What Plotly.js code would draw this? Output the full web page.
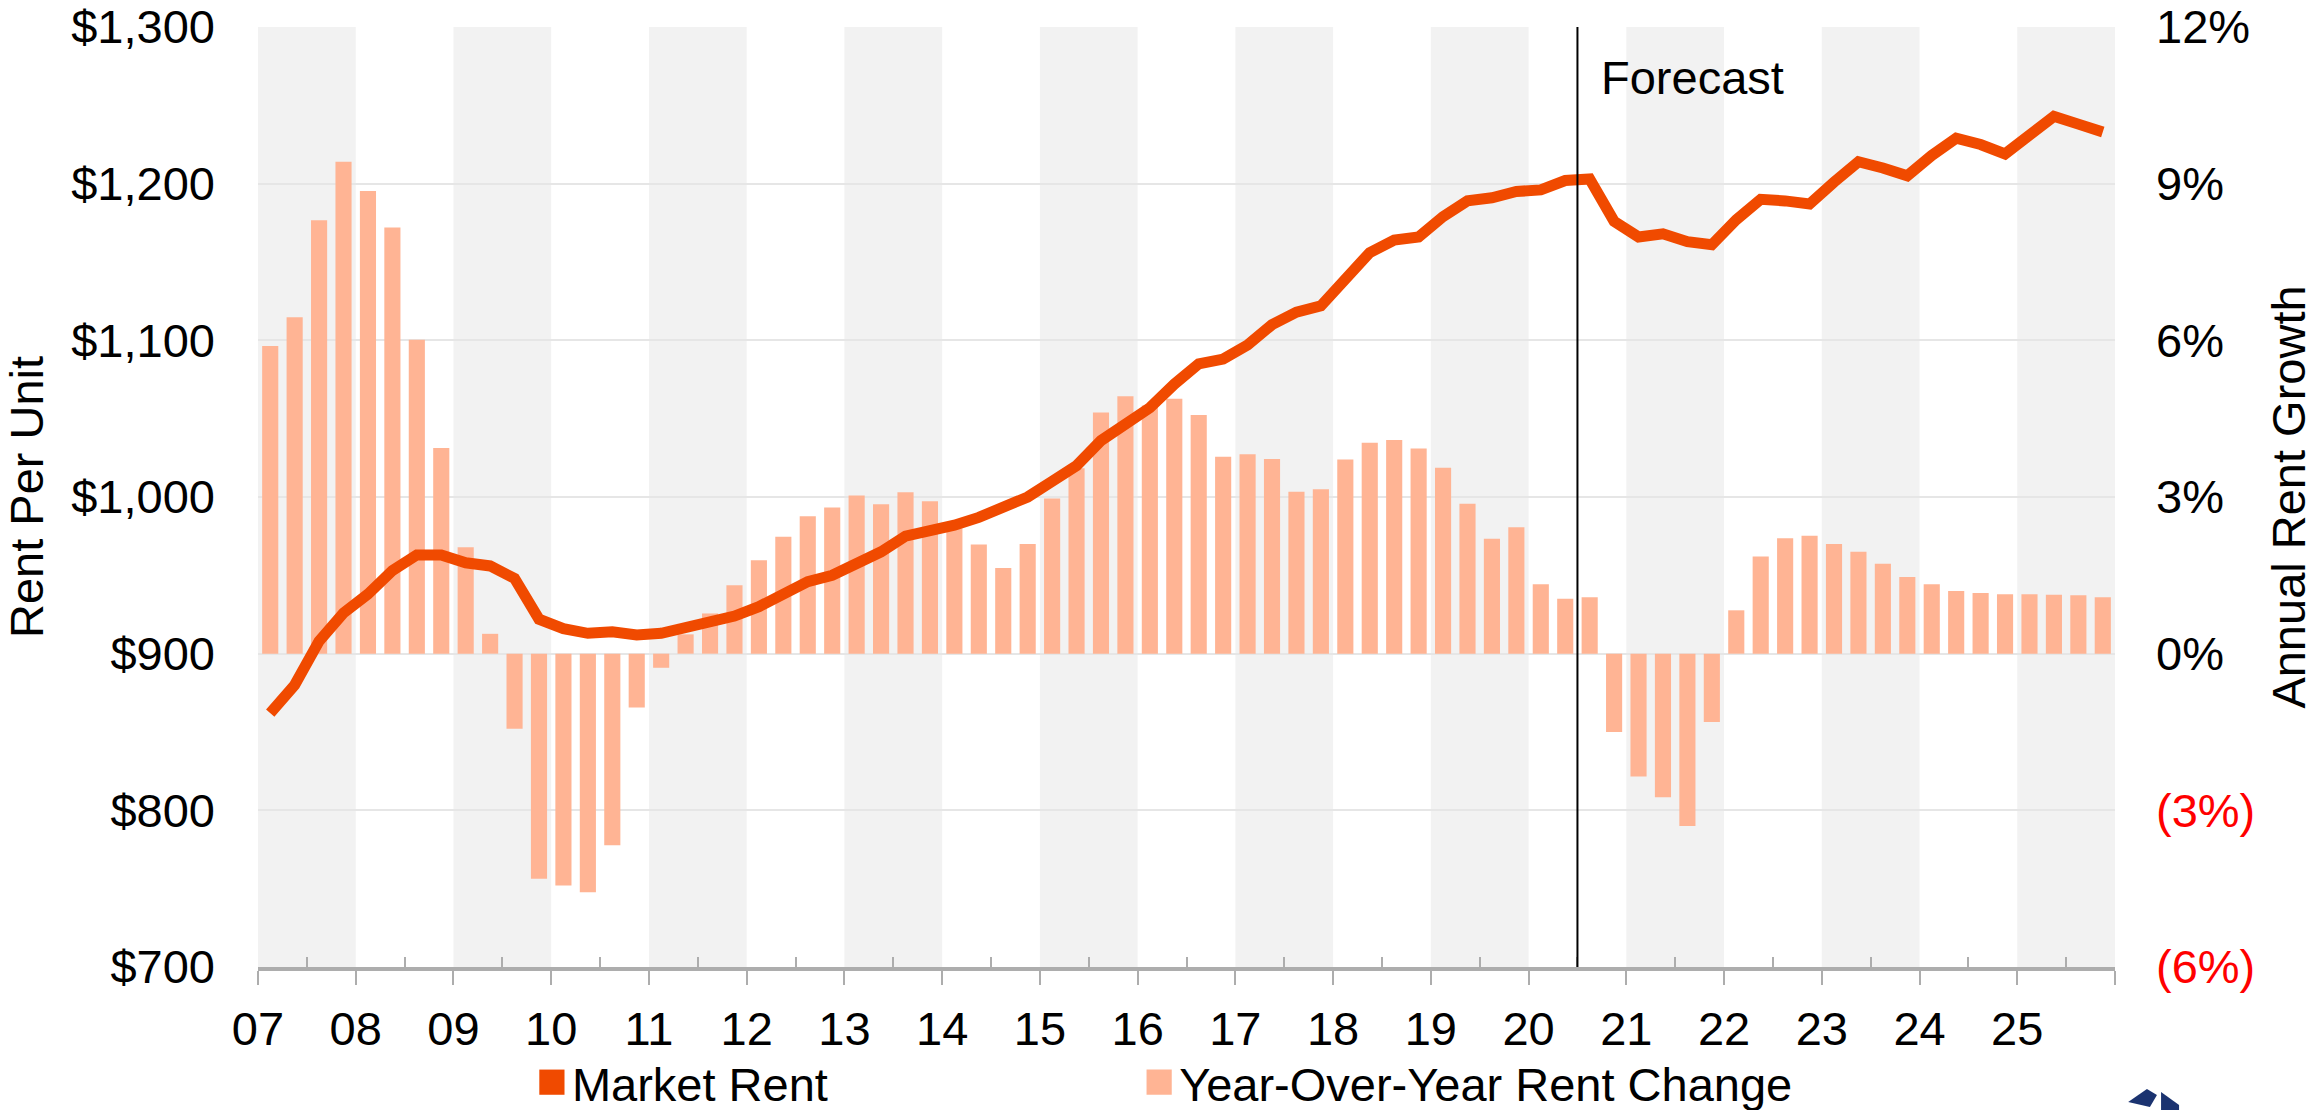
<!DOCTYPE html>
<html>
<head>
<meta charset="utf-8">
<script src="https://cdn.plot.ly/plotly-3.0.1.min.js"></script>
<style>
  html, body { margin: 0; padding: 0; background: #ffffff; }
  #chart { width: 2315px; height: 1110px; }
</style>
</head>
<body>
<div id="chart"></div>
<script>
// ---- Data (quarterly, 2007 Q1 – 2025 Q4) ----
const years = [2007,2008,2009,2010,2011,2012,2013,2014,2015,2016,2017,2018,2019,2020,2021,2022,2023,2024,2025];
const quarterNames = ['Q1','Q2','Q3','Q4'];

// Market rent per unit ($), left axis
const marketRent = [
  862, 880, 908, 926,   938, 953, 963, 963,   958, 956, 948, 922,   916, 913, 914, 912,
  913, 917, 921, 924,   930, 938, 946, 950,   958, 965, 975, 978,   982, 987, 993, 1000,
  1010, 1020, 1036, 1047,   1057, 1072, 1085, 1088,   1097, 1110, 1118, 1122,   1139, 1156, 1164, 1166,
  1179, 1189, 1191, 1195,   1196, 1202, 1203, 1176,   1166, 1168, 1163, 1161,   1177, 1190, 1189, 1187,
  1201, 1214, 1210, 1205,   1218, 1229, 1225, 1219,   1231, 1243, 1238, 1233
];

// Year-over-year rent change (%), right axis
const yoyChange = [
  5.89, 6.44, 8.30, 9.42,   8.86, 8.16, 6.01, 3.94,   2.04, 0.38, -1.44, -4.31,   -4.44, -4.57, -3.67, -1.03,
  -0.27, 0.37, 0.77, 1.31,   1.79, 2.24, 2.63, 2.80,   3.03, 2.86, 3.09, 2.92,   2.40, 2.09, 1.64, 2.10,
  2.97, 3.55, 4.62, 4.93,   4.75, 4.88, 4.57, 3.77,   3.82, 3.73, 3.10, 3.15,   3.72, 4.04, 4.09, 3.93,
  3.56, 2.87, 2.20, 2.42,   1.33, 1.05, 1.08, -1.50,   -2.35, -2.75, -3.30, -1.31,   0.83, 1.86, 2.21, 2.26,
  2.10, 1.95, 1.72, 1.47,   1.33, 1.20, 1.16, 1.14,   1.14, 1.13, 1.12, 1.08
];

const forecastStart = 2020.5;   // forecast begins mid-2020
const xTickLabels = ['07','08','09','10','11','12','13','14','15','16','17','18','19','20','21','22','23','24','25',''];
const rentRange = [700, 1300];
const rentStep = 100;
const growthTicks = [-6, -3, 0, 3, 6, 9, 12];
const growthTickText = ['<span style="color:#ff0000">(6%)</span>', '<span style="color:#ff0000">(3%)</span>', '0%', '3%', '6%', '9%', '12%'];

// ---- Derived x positions (quarter centres on a continuous year axis) ----
const quarterLabels = [];
const xPos = [];
years.forEach(function (yr) {
  quarterNames.forEach(function (q, qi) {
    quarterLabels.push(String(yr).slice(2) + ' ' + q);
    xPos.push(yr + (qi + 0.5) / 4);
  });
});
const tickYears = years.concat([years[years.length - 1] + 1]);

// ---- Styling ----
const FONT = 'Liberation Sans, Arial, Helvetica, sans-serif';
const FS = 47;
const lineColor = '#F04A00';
const barColor = '#FFB494';
const axisGray = '#ADADAD';
const logoNavy = '#1B3370';

const traces = [
  {
    type: 'bar', x: [xPos[0]], y: [null], yaxis: 'y2', legend: 'legend',
    name: 'Market Rent', marker: { color: lineColor }, hoverinfo: 'skip'
  },
  {
    type: 'bar', x: xPos, y: yoyChange, yaxis: 'y', customdata: quarterLabels, legend: 'legend2',
    name: 'Year-Over-Year Rent Change', marker: { color: barColor },
    textposition: 'none',
    hovertemplate: '%{customdata}: %{y:.2f}%<extra></extra>'
  },
  {
    type: 'scatter', mode: 'lines', x: xPos, y: marketRent, yaxis: 'y2', customdata: quarterLabels,
    name: 'Market Rent', showlegend: false,
    line: { color: lineColor, width: 11 },
    hovertemplate: '%{customdata}: $%{y:,.0f}<extra></extra>'
  }
];

// Alternating shaded year bands
const shapes = [];
years.forEach(function (yr, i) {
  if (i % 2 === 0) {
    shapes.push({
      type: 'rect', xref: 'x', yref: 'paper', x0: yr, x1: yr + 1, y0: 0, y1: 1,
      fillcolor: '#F2F2F2', line: { width: 0 }, layer: 'below'
    });
  }
});
shapes.push({
  type: 'line', xref: 'x', yref: 'paper', x0: forecastStart, x1: forecastStart, y0: 0, y1: 1,
  line: { color: '#000000', width: 2 }, layer: 'above'
});
// partially visible publisher logo mark in the bottom-right corner (cut off by the image edge)
shapes.push({
  type: 'path', xref: 'paper', yref: 'paper', layer: 'above',
  path: 'M 1.0071 -0.1436 L 1.0172 -0.1298 L 1.0226 -0.1362 L 1.0188 -0.1489 Z',
  fillcolor: logoNavy, line: { width: 0 }
});
shapes.push({
  type: 'path', xref: 'paper', yref: 'paper', layer: 'above',
  path: 'M 1.0248 -0.1330 L 1.0345 -0.1468 L 1.0345 -0.1550 L 1.0248 -0.1550 Z',
  fillcolor: logoNavy, line: { width: 0 }
});

const legendBase = {
  orientation: 'h', xanchor: 'left', y: -0.123, yanchor: 'middle',
  font: { family: FONT, size: FS, color: '#000000' },
  bgcolor: 'rgba(0,0,0,0)', borderwidth: 0
};

const layout = {
  width: 2315, height: 1110,
  margin: { l: 258, r: 200, t: 27, b: 143, autoexpand: false },
  paper_bgcolor: '#ffffff', plot_bgcolor: '#ffffff',
  font: { family: FONT, size: FS, color: '#000000' },
  barmode: 'overlay', bargap: 0.34,
  showlegend: true,
  legend: Object.assign({}, legendBase, { x: 0.1475 }),
  legend2: Object.assign({}, legendBase, { x: 0.4745 }),
  xaxis: {
    range: [years[0], years[years.length - 1] + 1],
    tickmode: 'array', tickvals: tickYears, ticktext: xTickLabels,
    ticks: 'outside', ticklen: 14, tickwidth: 2, tickcolor: axisGray,
    minor: { ticks: 'inside', ticklen: 10, tickwidth: 2, tickcolor: axisGray, tick0: years[0] + 0.5, dtick: 1, showgrid: false },
    showline: true, linecolor: axisGray, linewidth: 4,
    showgrid: false, zeroline: false,
    tickfont: { family: FONT, size: FS, color: '#000000' },
    ticklabelstandoff: 4
  },
  xaxis2: {
    overlaying: 'x', anchor: 'y', side: 'bottom',
    range: [years[0], years[years.length - 1] + 1],
    tickmode: 'array', tickvals: tickYears,
    ticks: 'inside', ticklen: 13, tickwidth: 2, tickcolor: axisGray,
    showticklabels: false, showline: false, showgrid: false, zeroline: false
  },
  yaxis: {
    side: 'right', range: [-6, 12],
    tickmode: 'array', tickvals: growthTicks, ticktext: growthTickText,
    showgrid: true, gridcolor: '#E6E6E6', gridwidth: 1.5,
    zeroline: false, ticks: '', showline: false,
    ticklabelstandoff: 40,
    tickfont: { family: FONT, size: FS, color: '#000000' },
    title: { text: 'Annual Rent Growth', font: { family: FONT, size: FS, color: '#000000' }, standoff: 20 }
  },
  yaxis2: {
    overlaying: 'y', side: 'left', range: rentRange,
    tickmode: 'linear', tick0: rentRange[0], dtick: rentStep, tickprefix: '$', tickformat: ',d',
    showgrid: false, zeroline: false, ticks: '', showline: false,
    ticklabelstandoff: 42,
    tickfont: { family: FONT, size: FS, color: '#000000' },
    title: { text: 'Rent Per Unit', font: { family: FONT, size: FS, color: '#000000' }, standoff: 28 }
  },
  shapes: shapes,
  annotations: [
    {
      text: 'Forecast', xref: 'x', yref: 'paper', x: forecastStart, y: 0.946,
      xanchor: 'left', yanchor: 'middle', xshift: 22, showarrow: false,
      font: { family: FONT, size: FS, color: '#000000' }
    }
  ]
};

Plotly.newPlot('chart', traces, layout, { displayModeBar: false, responsive: false }).then(function () {
  // enlarge the square legend swatches to match the reference
  document.querySelectorAll('.legendpoints path').forEach(function (p) {
    const t = p.getAttribute('transform') || '';
    p.setAttribute('transform', t + ' scale(2.1)');
  });
});
</script>
</body>
</html>
